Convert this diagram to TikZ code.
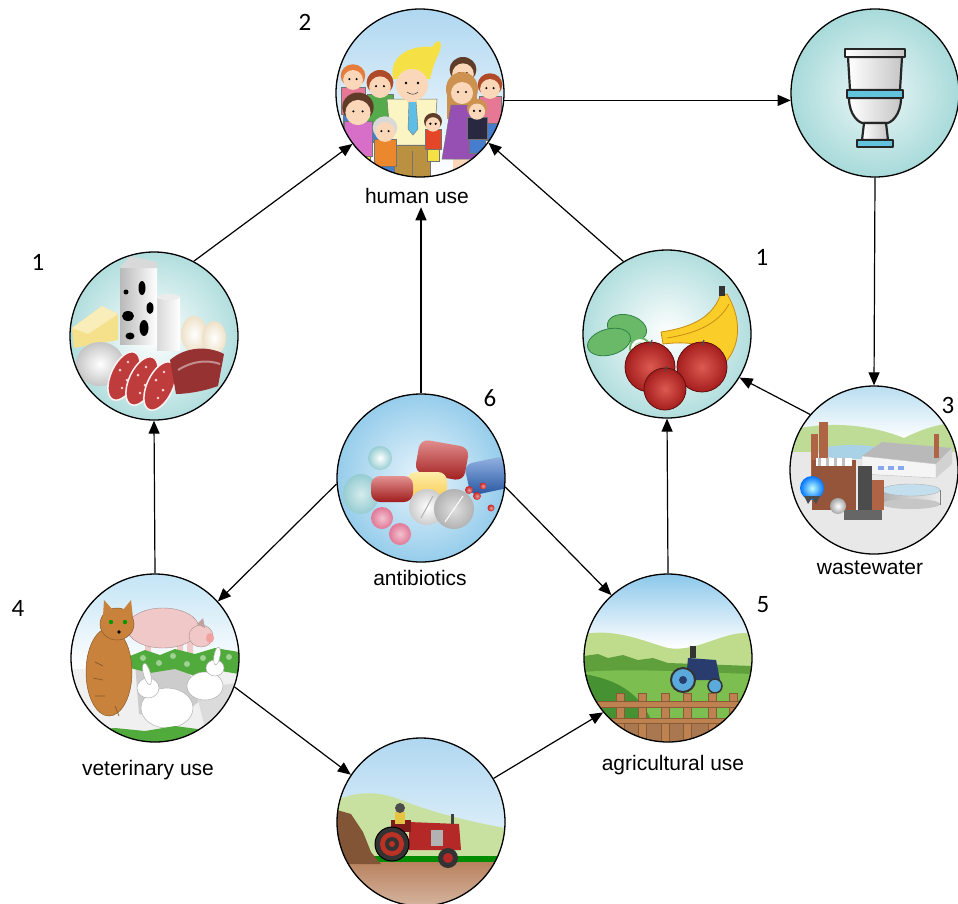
\documentclass[tikz,border=0pt]{standalone}
\usepackage{fontspec}
\setmainfont{Liberation Sans}
\newfontfamily\numfont{Carlito}
\usetikzlibrary{arrows.meta}

% palette
\definecolor{skyA}{RGB}{175,215,240}
\definecolor{skin}{RGB}{250,215,185}
\definecolor{hairY}{RGB}{245,225,70}
\definecolor{hairO}{RGB}{230,125,60}
\definecolor{hairR}{RGB}{175,75,40}
\definecolor{hairD}{RGB}{95,60,40}
\definecolor{hairL}{RGB}{205,145,80}
\definecolor{shirtY}{RGB}{250,245,195}
\definecolor{shirtP}{RGB}{230,120,150}
\definecolor{shirtM}{RGB}{215,110,200}
\definecolor{shirtG}{RGB}{85,170,75}
\definecolor{shirtOr}{RGB}{235,135,45}
\definecolor{shirtR}{RGB}{230,70,40}
\definecolor{navy}{RGB}{40,40,65}
\definecolor{jeans}{RGB}{70,125,205}
\definecolor{pantsB}{RGB}{185,145,65}
\definecolor{tieB}{RGB}{95,190,230}
\definecolor{dressP}{RGB}{150,80,180}
\definecolor{tcenter}{RGB}{238,247,247}
\definecolor{tedge}{RGB}{168,218,218}
\definecolor{tblue}{RGB}{100,195,220}
\definecolor{fedge}{RGB}{178,222,222}
\definecolor{cheese}{RGB}{245,225,140}
\definecolor{egg}{RGB}{238,225,200}
\definecolor{salami}{RGB}{190,60,60}
\definecolor{meat}{RGB}{150,50,50}
\definecolor{limeG}{RGB}{105,185,105}
\definecolor{limeD}{RGB}{50,130,70}
\definecolor{banana}{RGB}{250,205,40}
\definecolor{bananaD}{RGB}{200,140,20}
\definecolor{appleR}{RGB}{165,30,30}
\definecolor{appleL}{RGB}{220,90,80}
\definecolor{pcenter}{RGB}{232,244,252}
\definecolor{pedge}{RGB}{150,205,235}
\definecolor{capRed}{RGB}{200,35,35}
\definecolor{capBlue}{RGB}{45,105,200}
\definecolor{capYel}{RGB}{250,225,110}
\definecolor{tealT}{RGB}{150,205,210}
\definecolor{pinkB}{RGB}{225,120,150}
\definecolor{wsky}{RGB}{185,222,240}
\definecolor{whill}{RGB}{190,220,150}
\definecolor{wblue}{RGB}{170,210,230}
\definecolor{brick}{RGB}{175,100,70}
\definecolor{vsky}{RGB}{195,228,245}
\definecolor{pig}{RGB}{240,200,200}
\definecolor{grassG}{RGB}{80,170,60}
\definecolor{catB}{RGB}{200,130,60}
\definecolor{aSky}{RGB}{140,200,235}
\definecolor{hillL}{RGB}{190,220,140}
\definecolor{treeG}{RGB}{95,160,60}
\definecolor{fieldG}{RGB}{125,190,80}
\definecolor{fieldD}{RGB}{70,145,50}
\definecolor{soil}{RGB}{170,120,80}
\definecolor{fence}{RGB}{190,130,80}
\definecolor{tracB}{RGB}{40,60,110}
\definecolor{wheelB}{RGB}{90,170,220}
\definecolor{hill2}{RGB}{200,225,160}
\definecolor{soil2}{RGB}{185,130,95}
\definecolor{dirt}{RGB}{130,85,55}
\definecolor{tracR}{RGB}{180,40,40}

% a simple cartoon figure: x, y (head centre), head radius, hair, top, bottom, body width
\newcommand\figperson[7]{%
  \fill[#5, draw=black!55, line width=0.5pt] ({#1-#7/2},{#2+#3*0.8}) rectangle ({#1+#7/2},{#2+#3*3.3});
  \fill[#6, draw=black!55, line width=0.5pt] ({#1-#7/2+2},{#2+#3*3.3}) rectangle ({#1+#7/2-2},{#2+#3*4.8});
  \fill[#4] (#1,{#2-#3*0.2}) ellipse [x radius={#3*1.12}, y radius={#3*1.05}];
  \fill[skin] (#1,{#2+#3*0.18}) circle [radius={#3*0.9}];
  \fill[black] ({#1-#3*0.33},{#2+#3*0.1}) circle [radius=1.2] ({#1+#3*0.33},{#2+#3*0.1}) circle [radius=1.2];
}

\begin{document}
\begin{tikzpicture}[x=1pt, y=-1pt,
  hub/.style={circle, minimum size=168pt, inner sep=0pt, draw=black, line width=1.3pt},
  flow/.style={-{Triangle[length=13pt,width=11pt]}, line width=1.2pt, black},
  lbl/.style={font=\fontsize{21}{21}\selectfont, text=black},
  num/.style={font=\numfont\fontsize{25}{25}\selectfont, text=black},
  orb/.style={inner color=#1!45!white, outer color=#1}]
\useasboundingbox (0,0) rectangle (958,903);
\fill[white] (0,0) rectangle (958,903);

% ---------- human use
\begin{scope}[shift={(420,93)}]
  \clip (0,0) circle (84);
  \fill[top color=skyA, bottom color=white] (-84,-84) rectangle (84,84);
  \figperson{-67}{-15}{11}{hairO}{shirtP}{jeans}{24}
  \figperson{43}{-21}{12}{hairD}{shirtR}{jeans}{24}
  \figperson{70}{-6}{11}{hairR}{shirtP}{jeans}{22}
  \figperson{-40}{-8}{12}{hairR}{shirtG}{jeans}{26}
  % blond man
  \fill[shirtY, draw=black!55, line width=0.5pt] (-33,6) -- (17,6) -- (14,52) -- (-29,52) -- cycle;
  \fill[pantsB, draw=black!55, line width=0.5pt] (-26,52) rectangle (10,84);
  \draw[black!55, line width=0.5pt] (-8,58) -- (-8,84);
  \fill[tieB, draw=black!55, line width=0.4pt] (-11,8) -- (-4,8) -- (-2,36) -- (-7,42) -- (-12,36) -- cycle;
  \fill[skin] (-13,2) rectangle (-3,9);
  \fill[hairY] (-27,-14) .. controls (-32,-42) and (-2,-48) .. (12,-46)
     .. controls (18,-56) and (24,-52) .. (19,-40) .. controls (14,-30) and (12,-22) .. (10,-14) -- cycle;
  \fill[skin] (-8,-8) ellipse (16 and 16);
  \fill[black] (-14,-10) circle (1.4) (-2,-10) circle (1.4);
  \draw[black!70, line width=0.6pt] (-13,-1) .. controls (-9,2) and (-5,2) .. (-2,-1);
  % woman in purple
  \fill[hairL] (42,-4) ellipse (16 and 17);
  \fill[hairL] (27,-4) rectangle (57,26);
  \fill[skin] (33,64) rectangle (50,84);
  \fill[dressP, draw=black!55, line width=0.5pt] (31,12) -- (53,12) -- (62,66) -- (22,66) -- cycle;
  \fill[skin] (42,0) circle (11);
  \fill[black] (38,-1) circle (1.2) (46,-1) circle (1.2);
  \figperson{57}{17}{9}{hairL}{navy}{jeans}{20}
  \figperson{13}{30}{8}{hairD}{shirtR}{hairY}{16}
  \figperson{-62}{17}{14}{hairD}{shirtM}{hairY}{28}
  \figperson{-35}{37}{11}{black!15}{shirtOr}{jeans}{22}
\end{scope}

% ---------- toilet
\begin{scope}[shift={(875,93)}]
  \clip (0,0) circle (84);
  \shade[inner color=tcenter, outer color=tedge] (0,0) circle (84);
  \begin{scope}[draw=black!85, line width=2.2pt, line join=round]
    \shadedraw[left color=white, right color=gray!45] (-27,-36) -- (27,-36) -- (25,-3) -- (-25,-3) -- cycle;
    \shadedraw[left color=white, right color=gray!45] (-30,-44) rectangle (30,-36);
    \shadedraw[left color=white, right color=gray!45] (-26,5) -- (26,5) .. controls (26,22) and (16,30) .. (12,30)
       -- (-12,30) .. controls (-16,30) and (-26,22) .. (-26,5) -- cycle;
    \shadedraw[left color=white, right color=gray!45] (-11,30) -- (11,30) -- (13,47) -- (-13,47) -- cycle;
    \filldraw[fill=tblue] (-28,-3) rectangle (28,5);
    \filldraw[fill=tblue] (-18,47) rectangle (18,54);
  \end{scope}
\end{scope}

% ---------- dairy and meat
\begin{scope}[shift={(154,336)}]
  \clip (0,0) circle (84);
  \shade[inner color=white, outer color=fedge] (0,0) circle (84);
  \fill[cheese] (-82,-8) -- (-52,-30) -- (-36,-22) -- (-36,4) -- (-80,12) -- cycle;
  \fill[cheese!60!white] (-82,-8) -- (-52,-30) -- (-36,-22) -- (-66,-2) -- cycle;
  \shade[left color=gray!30, right color=white] (3,-39) rectangle (26,14);
  \fill[gray!15] (14.5,-39) ellipse (11.5 and 3);
  \shade[left color=gray!55, right color=white] (-34,-68) rectangle (3,8);
  \fill[gray!30] (-34,-68) -- (-24,-80) -- (3,-74) -- (3,-68) -- cycle;
  \fill[black] (-12,-48) ellipse (3.5 and 7) (-4,-28) ellipse (3.5 and 6) (-26,-20) ellipse (6 and 5)
     (-10,-8) ellipse (4.5 and 8) (-24,0) ellipse (4.5 and 3.5) (-28,-44) ellipse (2.5 and 2.5);
  \shade[inner color=white, outer color=egg] (40,-2) ellipse (13 and 18);
  \shade[inner color=white, outer color=egg] (60,2) ellipse (12 and 17);
  \shade[inner color=white, outer color=gray!45] (-54,28) ellipse (24 and 22);
  \foreach \px/\py in {-30/40, -12/45, 6/50} {
    \filldraw[fill=salami, draw=white!80!pink, line width=1.5pt, rotate around={-25:(\px,\py)}] (\px,\py) ellipse (13 and 26);
    \fill[pink!70] (\px-4,\py-6) circle (1.5) (\px+3,\py+4) circle (1.5) (\px-2,\py+12) circle (1.3) (\px+4,\py-14) circle (1.3);
  }
  \fill[meat] (16,24) .. controls (32,10) and (55,10) .. (70,18) -- (64,50) .. controls (48,56) and (30,58) .. (22,58) -- cycle;
  \draw[meat!55!white, line width=2pt] (24,34) .. controls (40,24) and (55,24) .. (66,28);
\end{scope}

% ---------- fruit
\begin{scope}[shift={(667,334)}]
  \clip (0,0) circle (84);
  \shade[inner color=white, outer color=fedge] (0,0) circle (84);
  \filldraw[fill=limeG, draw=limeD, line width=0.8pt, rotate around={-15:(-40,-6)}] (-40,-6) ellipse (20 and 13);
  \filldraw[fill=limeG, draw=limeD, line width=0.8pt, rotate around={15:(-58,8)}] (-58,8) ellipse (22 and 13);
  \filldraw[fill=white, draw=limeG, line width=2pt] (-27,14) circle (10);
  \fill[limeG!40!white] (-27,14) circle (6);
  \filldraw[fill=banana, draw=bananaD, line width=0.8pt]
    (-6,-2) .. controls (20,-6) and (44,-14) .. (53,-38) -- (60,-40)
    .. controls (78,-10) and (72,20) .. (50,36) .. controls (46,12) and (30,6) .. (-4,10) -- cycle;
  \draw[bananaD, line width=0.8pt] (0,4) .. controls (25,0) and (50,-8) .. (62,-30);
  \fill[black!80] (52,-48) rectangle (58,-38);
  \foreach \ax/\ay/\ar in {-17/33/25, 35/33/25, -2/55/21} {
    \filldraw[draw=appleR!60!black, line width=0.8pt, inner color=appleL, outer color=appleR] (\ax,\ay) circle (\ar);
    \draw[black!70, line width=1.2pt] (\ax,\ay-\ar+4) -- (\ax+2,\ay-\ar-2);
  }
\end{scope}

% ---------- antibiotics
\begin{scope}[shift={(421,478)}]
  \clip (0,0) circle (84);
  \shade[inner color=pcenter, outer color=pedge] (0,0) circle (84);
  \shade[inner color=white, outer color=tealT] (-41,-20) circle (12);
  \shade[inner color=white!60!tealT, outer color=tealT] (-60,16) ellipse (18 and 20);
  \begin{scope}[shift={(21,-18)}, rotate=-10]
    \shade[top color=capRed!50!white, bottom color=capRed!80!black, rounded corners=9] (-25,-17) rectangle (25,17);
  \end{scope}
  \begin{scope}[shift={(66,-2)}, rotate=12]
    \shade[top color=capBlue!50!white, bottom color=capBlue!80!black, rounded corners=8] (-20,-16) rectangle (22,16);
  \end{scope}
  \shade[top color=capYel!60!white, bottom color=capYel!80!orange, rounded corners=9] (-14,-6) rectangle (26,20);
  \shade[top color=capRed!50!white, bottom color=capRed!80!black, rounded corners=9] (-50,-2) rectangle (-8,24);
  \shade[inner color=white, outer color=gray!40] (6,29) circle (18);
  \draw[gray!60, line width=1pt] (0,40) -- (12,18);
  \shade[inner color=gray!25, outer color=gray!60] (33,31) circle (20);
  \draw[white, line width=1pt] (24,44) -- (42,18);
  \shade[orb=pinkB] (-39,40) circle (11);
  \shade[orb=pinkB] (-21,56) circle (11);
  \foreach \dx/\dy/\dr in {48/12/4, 56/18/4, 62/8/3.5, 70/30/3.5}
    \shade[orb=capRed] (\dx,\dy) circle (\dr);
\end{scope}

% ---------- wastewater plant
\begin{scope}[shift={(874,470)}]
  \clip (0,0) circle (84);
  \fill[gray!15] (-84,-84) rectangle (84,84);
  \fill[top color=wsky, bottom color=white] (-84,-84) rectangle (84,-30);
  \fill[whill] (-84,-40) .. controls (-40,-50) and (0,-44) .. (30,-32) .. controls (50,-42) and (70,-48) .. (84,-46)
     -- (84,-16) -- (-84,-16) -- cycle;
  \fill[gray!18] (-84,-18) rectangle (84,84);
  \fill[wblue] (-22,-18) ellipse (34 and 7);
  \fill[gray!55] (-12,-14) -- (8,-28) -- (78,-22) -- (62,-6) -- cycle;
  \fill[gray!8, draw=gray!50, line width=0.4pt] (-12,-14) -- (62,-6) -- (62,8) -- (-12,4) -- cycle;
  \fill[gray!35] (62,-6) -- (78,-22) -- (78,-6) -- (62,8) -- cycle;
  \foreach \wx in {4,14,24} \fill[wblue!80!blue] (\wx,-4) rectangle (\wx+6,0);
  \shade[left color=gray!60, right color=gray!15, draw=gray] (8,20) rectangle (66,34);
  \fill[gray!45] (37,34) ellipse (29 and 5);
  \filldraw[fill=wblue!70!white, draw=gray!60] (37,20) ellipse (29 and 6);
  \fill[brick] (-55,-48) rectangle (-46,10);
  \fill[brick] (-63,-36) rectangle (-56,10);
  \fill[brick] (60,-36) rectangle (65,-12);
  \fill[brick!85!black] (-62,-10) rectangle (-18,40);
  \fill[white] (-58,-12) rectangle (-22,-4);
  \foreach \sx in {-56,-48,-40,-32} \fill[gray!50] (\sx,-12) rectangle (\sx+3,-4);
  \fill[black!70] (-16,-4) rectangle (-2,46);
  \fill[brick] (-2,10) rectangle (10,40);
  \fill[black!60] (-30,40) rectangle (8,50);
  \shade[inner color=cyan!25!white, outer color=blue!55!cyan] (-62,18) circle (12);
  \fill[black!70] (-70,26) -- (-66,34) -- (-62,28) -- (-58,34) -- (-54,26) -- cycle;
  \shade[inner color=white, outer color=gray!70] (-36,36) circle (8);
\end{scope}

% ---------- veterinary animals
\begin{scope}[shift={(155,658)}]
  \clip (0,0) circle (84);
  \fill[gray!12] (-84,-84) rectangle (84,84);
  \fill[top color=vsky, bottom color=white] (-84,-84) rectangle (84,10);
  \fill[gray!40] (-20,5) -- (30,8) -- (48,40) -- (22,62) -- (-16,56) -- cycle;
  \fill[gray!28] (40,30) -- (84,25) -- (84,70) -- (50,70) -- cycle;
  % pig
  \fill[pig] (-10,-16) rectangle (-4,6) (22,-16) rectangle (28,4) (32,-16) rectangle (38,6);
  \fill[pig, draw=pig!70!black, line width=0.4pt] (8,-30) ellipse (36 and 20);
  \fill[pig, draw=pig!70!black, line width=0.4pt] (46,-22) ellipse (12 and 11);
  \fill[pig!80!red] (55,-20) ellipse (4 and 5);
  \fill[pig!80!black] (42,-34) -- (48,-40) -- (50,-30) -- cycle;
  % grass bank
  \fill[grassG] (-25,-2) -- (-10,-8) -- (5,-3) -- (20,-9) -- (40,-4) -- (60,-10) -- (84,-6)
     -- (84,16) -- (60,12) -- (40,18) -- (20,11) -- (-5,15) -- (-25,10) -- cycle;
  \foreach \gx/\gy in {-12/0, 4/5, 18/-2, 32/6, 48/0, 62/4, 74/-1}
    \fill[grassG!55!white] (\gx,\gy) circle (3);
  % cat
  \fill[catB, draw=catB!70!black, line width=0.5pt] (-46,14) ellipse (23 and 44);
  \fill[catB, draw=catB!70!black, line width=0.5pt] (-38,-34) ellipse (17 and 16);
  \fill[catB] (-52,-42) -- (-51,-58) -- (-42,-48) -- cycle (-32,-48) -- (-24,-58) -- (-22,-40) -- cycle;
  \fill[green!60!black] (-44,-36) circle (2.2) (-30,-36) circle (2.2);
  \fill[black] (-36,-26) circle (1.8);
  \draw[catB!70!black, line width=0.7pt] (-60,4) -- (-52,8) (-62,20) -- (-52,22) (-60,38) -- (-50,38) (-40,48) -- (-36,58);
  % rabbits
  \filldraw[fill=white, draw=gray!60, line width=0.5pt] (12,50) ellipse (26 and 20);
  \filldraw[fill=white, draw=gray!60, line width=0.5pt] (-7,30) ellipse (11 and 10);
  \filldraw[fill=white, draw=gray!60, line width=0.5pt, rotate around={15:(-8,16)}] (-8,16) ellipse (3.5 and 11);
  \filldraw[fill=white, draw=gray!60, line width=0.5pt] (50,28) ellipse (18 and 14);
  \filldraw[fill=white, draw=gray!60, line width=0.5pt] (60,10) ellipse (9 and 8);
  \filldraw[fill=white, draw=gray!60, line width=0.5pt, rotate around={-10:(62,-2)}] (62,-2) ellipse (3 and 9);
  \fill[grassG] (-84,74) -- (-40,70) -- (-10,73) -- (20,68) -- (50,72) -- (84,70) -- (84,84) -- (-84,84) -- cycle;
\end{scope}

% ---------- agricultural field
\begin{scope}[shift={(668,658)}]
  \clip (0,0) circle (84);
  \fill[white] (-84,-84) rectangle (84,84);
  \fill[top color=aSky, bottom color=white] (-84,-84) rectangle (84,-10);
  \fill[hillL] (-84,-24) .. controls (-50,-30) and (-20,-15) .. (0,-10) .. controls (30,-5) and (60,-30) .. (84,-24)
     -- (84,84) -- (-84,84) -- cycle;
  \fill[treeG] (-84,-2) -- (-70,-4) -- (-60,0) -- (-45,-3) -- (-30,2) -- (-15,0) -- (0,5) -- (30,6) -- (84,8)
     -- (84,22) -- (-84,22) -- cycle;
  \fill[fieldG] (-84,14) .. controls (-40,10) and (20,14) .. (84,16) -- (84,84) -- (-84,84) -- cycle;
  \fill[fieldD] (-84,16) .. controls (-50,22) and (-20,36) .. (-10,84) -- (-84,84) -- cycle;
  \fill[soil] (-84,66) rectangle (84,84);
  % tractor
  \fill[tracB] (20,0) -- (48,2) -- (52,22) -- (18,22) -- cycle;
  \fill[black!80] (22,-12) rectangle (28,0);
  \filldraw[fill=wheelB, draw=black!80, line width=2pt] (15,22) circle (12);
  \fill[tracB] (15,22) circle (4);
  \filldraw[fill=wheelB, draw=black!80, line width=1.5pt] (47,28) circle (7);
  % fence
  \foreach \fx in {-48,-26,-3,19,44,65}
    \filldraw[fill=fence, draw=fence!70!black, line width=0.5pt] (\fx-4,35) rectangle (\fx+4,84);
  \filldraw[fill=fence, draw=fence!70!black, line width=0.5pt] (-84,43) rectangle (84,49);
  \filldraw[fill=fence, draw=fence!70!black, line width=0.5pt] (-84,60) rectangle (84,65);
\end{scope}

% ---------- ploughing tractor
\begin{scope}[shift={(421,822)}]
  \clip (0,0) circle (84);
  \fill[top color=skyA, bottom color=white] (-84,-84) rectangle (84,84);
  \fill[hill2] (-84,-22) .. controls (-60,-32) and (-40,-30) .. (-20,-22) .. controls (10,-10) and (50,0) .. (84,6)
     -- (84,84) -- (-84,84) -- cycle;
  \fill[green!55!black] (-84,34) rectangle (84,42);
  \fill[top color=soil2, bottom color=soil2!60!white] (-84,40) rectangle (84,84);
  \fill[dirt] (-84,-12) -- (-70,-8) -- (-58,10) -- (-50,30) -- (-40,42) -- (-84,42) -- cycle;
  % tractor
  \fill[tracR] (-12,0) -- (38,2) -- (40,28) -- (-12,28) -- cycle;
  \fill[tracR!70!black] (-30,-2) -- (-10,-2) -- (-10,10) -- (-30,10) -- cycle;
  \fill[gray!60] (10,8) rectangle (22,24);
  \fill[black!75] (30,-8) rectangle (33,2);
  \fill[hairY!70!brown] (-26,-10) rectangle (-16,2);
  \fill[black!70] (-21,-14) circle (5);
  \filldraw[fill=black!80, draw=black, line width=1pt] (-29,22) circle (17);
  \fill[tracR!90!orange] (-29,22) circle (12);
  \fill[black!80] (-29,22) circle (7);
  \fill[tracR!90!orange] (-29,22) circle (3);
  \fill[black!80] (27,36) circle (10);
  \fill[tracR] (27,36) circle (5);
\end{scope}

% ---------- stages
\node[hub] (human) at (420,93) {};
\node[hub] (toilet) at (875,93) {};
\node[hub] (food) at (154,336) {};
\node[hub] (fruit) at (667,334) {};
\node[hub] (anti) at (421,478) {};
\node[hub] (waste) at (874,470) {};
\node[hub] (vet) at (155,658) {};
\node[hub] (agri) at (668,658) {};
\node[hub] (plough) at (421,822) {};

% ---------- captions
\node[lbl] (hlabel) at (417,196) {human use};
\node[lbl] (alabel) at (420,578) {antibiotics};
\node[lbl] (wlabel) at (870,568) {wastewater};
\node[lbl] (vlabel) at (148,770) {veterinary use};
\node[lbl] (glabel) at (673,765) {agricultural use};

% ---------- numbers
\node[num] (n2) at (305,22) {2};
\node[num] (n1a) at (38,262) {1};
\node[num] (n1b) at (762,257) {1};
\node[num] (n6) at (490,398) {6};
\node[num] (n3) at (948,405) {3};
\node[num] (n4) at (18,608) {4};
\node[num] (n5) at (763,605) {5};

% ---------- flows
\draw[flow] (food.62) -- (human.217);
\draw[flow] (fruit.121) -- (human.324);
\draw[flow] (human.355) -- (toilet.185);
\draw[flow] (toilet.270) -- (waste.90);
\draw[flow] (waste.139) -- (fruit.329);
\draw[flow] (anti.north) -- (anti.north |- hlabel.south);
\draw[flow] (anti.184) -- (vet.42);
\draw[flow] (anti.354) -- (agri.132);
\draw[flow] (vet.north) -- (food.south);
\draw[flow] (vet.340) -- (plough.146);
\draw[flow] (plough.31) -- (agri.220);
\draw[flow] (agri.north) -- (fruit.south);
\end{tikzpicture}
\end{document}
